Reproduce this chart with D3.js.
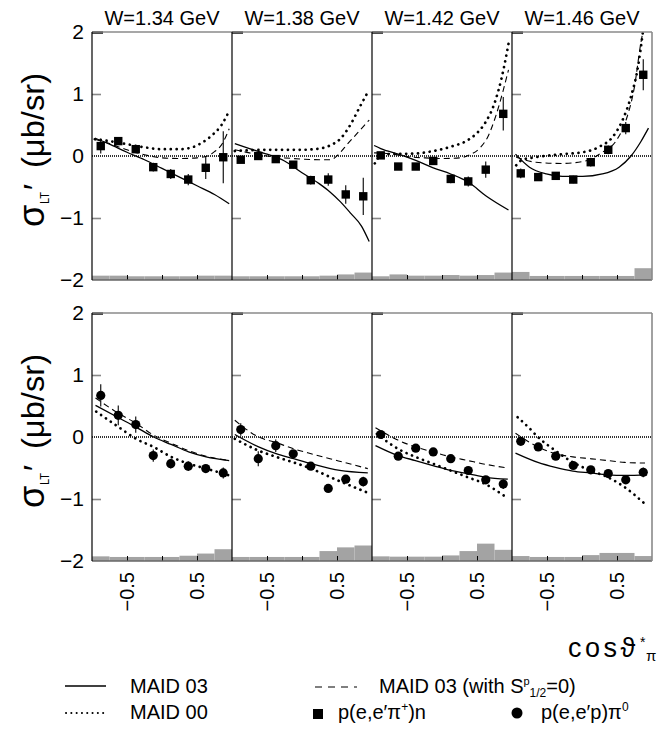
<!DOCTYPE html>
<html>
<head>
<meta charset="utf-8">
<script src="https://cdn.jsdelivr.net/npm/d3@7"></script>
<style>
  body { margin: 0; background: #fff; }
  svg { font-family: "Liberation Sans", Arial, sans-serif; }
</style>
</head>
<body>
<div id="chart"></div>
<script>
// panel titles
const energies = ['W=1.34 GeV', 'W=1.38 GeV', 'W=1.42 GeV', 'W=1.46 GeV']
// bin centres in cos theta*
const cosBins = [-0.875, -0.625, -0.375, -0.125, 0.125, 0.375, 0.625, 0.875]
const binWidth = 0.25
const yTicks = [-2, -1, 0, 1, 2]
const xTickLabels = [-0.5, 0.5]

// p(e,e'pi+)n  (top row)
const piPlusVal = [
  [0.16, 0.24, 0.11, -0.18, -0.29, -0.38, -0.19, -0.02],
  [-0.06, 0.0, -0.05, -0.14, -0.39, -0.38, -0.62, -0.65],
  [0.01, -0.17, -0.17, -0.08, -0.37, -0.41, -0.22, 0.68],
  [-0.28, -0.34, -0.32, -0.38, -0.10, 0.10, 0.45, 1.31]
]
const piPlusErr = [
  [0.12, 0.05, 0.06, 0.07, 0.08, 0.09, 0.18, 0.42],
  [0.05, 0.04, 0.05, 0.06, 0.07, 0.10, 0.15, 0.30],
  [0.05, 0.05, 0.05, 0.05, 0.07, 0.08, 0.13, 0.27],
  [0.08, 0.05, 0.05, 0.06, 0.07, 0.07, 0.10, 0.25]
]
const piPlusSys = [
  [0.07, 0.07, 0.06, 0.06, 0.06, 0.06, 0.07, 0.07],
  [0.06, 0.06, 0.06, 0.06, 0.06, 0.07, 0.09, 0.12],
  [0.06, 0.09, 0.07, 0.07, 0.08, 0.07, 0.08, 0.12],
  [0.13, 0.065, 0.065, 0.065, 0.065, 0.065, 0.065, 0.19]
]

// p(e,e'p)pi0  (bottom row)
const pi0Val = [
  [0.67, 0.35, 0.20, -0.30, -0.43, -0.47, -0.51, -0.58],
  [0.12, -0.35, -0.14, -0.27, -0.47, -0.83, -0.68, -0.72],
  [0.04, -0.31, -0.18, -0.24, -0.35, -0.54, -0.69, -0.76],
  [-0.07, -0.16, -0.31, -0.46, -0.53, -0.59, -0.69, -0.57]
]
const pi0Err = [
  [0.18, 0.16, 0.13, 0.10, 0.08, 0.08, 0.06, 0.09],
  [0.10, 0.12, 0.10, 0.05, 0.05, 0.04, 0.05, 0.08],
  [0.05, 0.06, 0.05, 0.05, 0.04, 0.04, 0.05, 0.08],
  [0.05, 0.05, 0.05, 0.05, 0.04, 0.04, 0.05, 0.08]
]
const pi0Sys = [
  [0.075, 0.065, 0.065, 0.065, 0.065, 0.085, 0.12, 0.19],
  [0.065, 0.065, 0.065, 0.065, 0.065, 0.16, 0.22, 0.25],
  [0.075, 0.07, 0.07, 0.07, 0.09, 0.16, 0.28, 0.18],
  [0.08, 0.065, 0.065, 0.065, 0.095, 0.13, 0.13, 0.08]
]

// model curves, [cos, sigma]
const maid03PiPlus = [
  [[-0.96, 0.29], [-0.75, 0.19], [-0.5, 0.06], [-0.25, -0.06], [0, -0.2], [0.25, -0.34], [0.5, -0.48], [0.75, -0.62], [0.96, -0.77]],
  [[-0.96, 0.2], [-0.75, 0.12], [-0.5, 0.03], [-0.25, -0.08], [0, -0.27], [0.25, -0.45], [0.4, -0.58], [0.55, -0.74], [0.7, -0.93], [0.85, -1.13], [0.96, -1.38]],
  [[-0.97, 0.17], [-0.875, 0.12], [-0.625, 0.03], [-0.375, -0.07], [-0.125, -0.19], [0.125, -0.29], [0.375, -0.42], [0.625, -0.64], [0.95, -0.87]],
  [[-0.95, 0.03], [-0.75, -0.18], [-0.51, -0.29], [-0.28, -0.33], [0.01, -0.33], [0.29, -0.29], [0.53, -0.18], [0.7, 0], [0.84, 0.23], [0.95, 0.45]]
]
const maid03S0PiPlus = [
  [[-0.96, 0.27], [-0.75, 0.2], [-0.5, 0.1], [-0.25, 0.02], [0, -0.03], [0.25, -0.04], [0.5, -0.03], [0.65, 0.0], [0.75, 0.07], [0.85, 0.18], [0.96, 0.44]],
  [[-0.96, 0.1], [-0.75, 0.05], [-0.5, 0.0], [-0.25, -0.03], [0, -0.05], [0.25, -0.06], [0.4, -0.06], [0.55, 0.06], [0.64, 0.18], [0.8, 0.38], [0.96, 0.58]],
  [[-0.97, 0.05], [-0.75, 0.04], [-0.5, -0.01], [-0.25, -0.03], [0, -0.04], [0.25, -0.03], [0.4, 0.02], [0.55, 0.14], [0.65, 0.3], [0.77, 0.65], [0.87, 1.04], [0.95, 1.39]],
  [[-0.94, -0.02], [-0.66, -0.1], [-0.28, -0.12], [0.01, -0.09], [0.29, 0.06], [0.49, 0.25], [0.63, 0.58], [0.75, 1.12], [0.84, 1.82], [0.87, 2.0]]
]
const maid00PiPlus = [
  [[-0.96, 0.27], [-0.75, 0.24], [-0.5, 0.19], [-0.25, 0.14], [0, 0.11], [0.25, 0.11], [0.4, 0.13], [0.55, 0.2], [0.7, 0.32], [0.85, 0.5], [0.97, 0.75]],
  [[-0.96, 0.08], [-0.5, 0.1], [0, 0.1], [0.25, 0.12], [0.4, 0.17], [0.55, 0.28], [0.7, 0.52], [0.82, 0.78], [0.95, 1.05]],
  [[-0.96, -0.12], [-0.88, 0.0], [-0.75, 0.03], [-0.375, 0.04], [-0.125, 0.08], [0.125, 0.15], [0.375, 0.26], [0.5, 0.37], [0.625, 0.55], [0.75, 0.85], [0.85, 1.25], [0.96, 1.87]],
  [[-0.94, -0.15], [-0.85, -0.06], [-0.66, -0.02], [-0.28, 0.03], [0.01, 0.06], [0.25, 0.15], [0.44, 0.31], [0.58, 0.58], [0.7, 0.96], [0.8, 1.44], [0.87, 2.0]]
]

const maid03Pi0 = [
  [[-0.95, 0.51], [-0.62, 0.31], [-0.37, 0.16], [-0.12, 0], [0.13, -0.12], [0.38, -0.24], [0.63, -0.32], [0.96, -0.38]],
  [[-0.96, 0.04], [-0.62, -0.16], [-0.37, -0.27], [-0.12, -0.35], [0.13, -0.43], [0.54, -0.54], [0.94, -0.58]],
  [[-0.95, -0.14], [-0.63, -0.3], [-0.38, -0.38], [-0.13, -0.46], [0.12, -0.54], [0.37, -0.59], [0.62, -0.65], [0.94, -0.68]],
  [[-0.95, -0.26], [-0.63, -0.41], [-0.38, -0.49], [-0.13, -0.55], [0.12, -0.58], [0.37, -0.61], [0.61, -0.62], [0.93, -0.61]]
]
const maid03S0Pi0 = [
  [[-0.95, 0.63], [-0.62, 0.38], [-0.37, 0.22], [-0.12, 0.03], [0.13, -0.1], [0.38, -0.22], [0.63, -0.31], [0.96, -0.38]],
  [[-0.96, 0.27], [-0.62, 0], [-0.37, -0.09], [-0.12, -0.19], [0.13, -0.27], [0.4, -0.35], [0.94, -0.51]],
  [[-0.95, 0.15], [-0.63, -0.05], [-0.38, -0.16], [-0.13, -0.24], [0.12, -0.32], [0.37, -0.38], [0.62, -0.44], [0.94, -0.5]],
  [[-0.95, 0.06], [-0.63, -0.16], [-0.38, -0.27], [-0.13, -0.32], [0.12, -0.35], [0.37, -0.38], [0.61, -0.41], [0.9, -0.42]]
]
const maid00Pi0 = [
  [[-0.94, 0.41], [-0.62, 0.16], [-0.37, -0.03], [-0.12, -0.16], [0.13, -0.32], [0.38, -0.43], [0.63, -0.51], [0.96, -0.62]],
  [[-0.96, -0.03], [-0.62, -0.22], [-0.37, -0.32], [-0.12, -0.41], [0.13, -0.51], [0.45, -0.67], [0.92, -0.89]],
  [[-0.93, 0.05], [-0.63, -0.19], [-0.38, -0.32], [-0.13, -0.43], [0.12, -0.54], [0.37, -0.65], [0.62, -0.76], [0.89, -0.95]],
  [[-0.92, 0.32], [-0.75, 0.14], [-0.63, 0], [-0.38, -0.22], [-0.13, -0.41], [0.12, -0.54], [0.37, -0.65], [0.61, -0.81], [0.89, -1.07]]
]

const width = 658, height = 730
const panelLeft = 92, panelW = 140
const rowBoxes = [{top: 32, bottom: 280}, {top: 313, bottom: 561}]

const rows = [
  {val: piPlusVal, err: piPlusErr, sys: piPlusSys, m03: maid03PiPlus, m03s: maid03S0PiPlus, m00: maid00PiPlus, marker: 'square'},
  {val: pi0Val, err: pi0Err, sys: pi0Sys, m03: maid03Pi0, m03s: maid03S0Pi0, m00: maid00Pi0, marker: 'circle'}
]

const styles = {
  m03: {dash: null, w: 1.3, cap: 'butt'},
  m03s: {dash: '6,4', w: 1.1, cap: 'butt'},
  m00: {dash: '0.1,5.8', w: 2.7, cap: 'round'}
}

const svg = d3.select('#chart').append('svg')
  .attr('width', width).attr('height', height)
const defs = svg.append('defs')

rows.forEach((row, r) => {
  const {top, bottom} = rowBoxes[r]
  const y = d3.scaleLinear().domain([-2, 2]).range([bottom, top])

  energies.forEach((title, p) => {
    const x0 = panelLeft + p * panelW
    const x = d3.scaleLinear().domain([-1, 1]).range([x0, x0 + panelW])
    const clipId = `clip-${r}-${p}`
    defs.append('clipPath').attr('id', clipId)
      .append('rect').attr('x', x0).attr('y', top)
      .attr('width', panelW).attr('height', bottom - top)

    const g = svg.append('g')

    // systematic error histogram
    g.selectAll('rect.sys').data(row.sys[p]).join('rect')
      .attr('class', 'sys')
      .attr('x', (d, i) => x(cosBins[i] - binWidth / 2))
      .attr('width', (d, i) => x(cosBins[i] + binWidth / 2) - x(cosBins[i] - binWidth / 2))
      .attr('y', d => y(-2 + d))
      .attr('height', d => y(-2) - y(-2 + d))
      .attr('fill', '#a3a3a3')

    // zero line
    g.append('line')
      .attr('x1', x0).attr('x2', x0 + panelW)
      .attr('y1', y(0)).attr('y2', y(0))
      .attr('stroke', '#333').attr('stroke-width', 2)
      .attr('stroke-dasharray', '1,1')

    // model curves
    const curves = g.append('g').attr('clip-path', `url(#${clipId})`)
    ;['m03s', 'm00', 'm03'].forEach(k => {
      const s = styles[k]
      curves.append('path')
        .attr('d', d3.line().x(d => x(d[0])).y(d => y(d[1])).curve(d3.curveMonotoneX)(row[k][p]))
        .attr('fill', 'none').attr('stroke', '#000')
        .attr('stroke-width', s.w)
        .attr('stroke-dasharray', s.dash)
        .attr('stroke-linecap', s.cap)
    })

    // data with error bars
    const pts = row.val[p].map((v, i) => ({c: cosBins[i], v, e: row.err[p][i]}))
    g.selectAll('line.err').data(pts).join('line')
      .attr('class', 'err')
      .attr('x1', d => x(d.c)).attr('x2', d => x(d.c))
      .attr('y1', d => y(d.v - d.e)).attr('y2', d => y(d.v + d.e))
      .attr('stroke', '#000').attr('stroke-width', 1.1)
    if (row.marker === 'square') {
      g.selectAll('rect.pt').data(pts).join('rect')
        .attr('class', 'pt')
        .attr('x', d => x(d.c) - 4.2).attr('y', d => y(d.v) - 4.2)
        .attr('width', 8.4).attr('height', 8.4).attr('fill', '#000')
    } else {
      g.selectAll('circle.pt').data(pts).join('circle')
        .attr('class', 'pt')
        .attr('cx', d => x(d.c)).attr('cy', d => y(d.v))
        .attr('r', 4.6).attr('fill', '#000')
    }

    // ticks inside frame
    g.append('g').attr('transform', `translate(${x0},0)`)
      .call(d3.axisRight(y).tickValues([-1, 1]).tickSize(9).tickFormat(''))
      .call(a => a.select('.domain').remove())
      .call(a => a.selectAll('line').attr('stroke', '#888').attr('stroke-width', 1.6))
    g.append('g').attr('transform', `translate(${x0},0)`)
      .call(d3.axisRight(y).tickValues([2]).tickSize(11).tickFormat(''))
      .call(a => a.select('.domain').remove())
      .call(a => a.selectAll('line').attr('stroke', '#000').attr('stroke-width', 2.4))
    g.append('g').attr('transform', `translate(0,${bottom})`)
      .call(d3.axisTop(x).tickValues([-0.5, 0, 0.5]).tickSize(5).tickFormat(''))
      .call(a => a.select('.domain').remove())
      .call(a => a.selectAll('line').attr('stroke', '#000').attr('stroke-width', 1))

    // frame
    g.append('line').attr('x1', x0).attr('x2', x0 + panelW).attr('y1', top).attr('y2', top)
      .attr('stroke', '#8a8a8a').attr('stroke-width', 1.6)
    g.append('line').attr('x1', x0).attr('x2', x0 + panelW).attr('y1', bottom).attr('y2', bottom)
      .attr('stroke', '#666').attr('stroke-width', 1.4)
    g.append('line').attr('x1', x0).attr('x2', x0).attr('y1', top).attr('y2', bottom)
      .attr('stroke', '#000').attr('stroke-width', 1.2)
    if (p === energies.length - 1) {
      g.append('line').attr('x1', x0 + panelW).attr('x2', x0 + panelW).attr('y1', top).attr('y2', bottom)
        .attr('stroke', '#8a8a8a').attr('stroke-width', 1.6)
    }

    if (r === 0) {
      svg.append('text')
        .attr('x', x0 + panelW / 2).attr('y', 25)
        .attr('text-anchor', 'middle').attr('font-size', 20)
        .text(title)
    } else {
      xTickLabels.forEach(t => {
        svg.append('text')
          .attr('transform', `translate(${x(t) + 7},572) rotate(-90)`)
          .attr('text-anchor', 'end').attr('font-size', 20)
          .text(d3.format('.1f')(t))
      })
    }
  })

  // y axis numbers
  svg.append('g').attr('transform', `translate(${panelLeft},0)`)
    .call(d3.axisLeft(y).tickValues(yTicks).tickSize(0).tickPadding(8).tickFormat(d3.format('d')))
    .call(a => a.select('.domain').remove())
    .call(a => a.selectAll('text').attr('font-size', 21).attr('font-family', '"Liberation Sans", Arial, sans-serif'))

  // y axis title, laid out along the rotated baseline
  const yt = svg.append('g').attr('transform', `translate(44,${y(0)}) rotate(-90)`)
  yt.append('text').attr('x', -71).attr('font-size', 36).text('σ')
  yt.append('text').attr('x', -48).attr('y', 5).attr('font-size', 13)
    .attr('textLength', 12).attr('lengthAdjust', 'spacingAndGlyphs').text('LT')
  yt.append('text').attr('x', -34).attr('y', 2).attr('font-size', 32).text('′')
  yt.append('text').attr('x', -12).attr('font-size', 32)
    .attr('textLength', 95).attr('lengthAdjust', 'spacingAndGlyphs').text('(μb/sr)')
})

// x axis title
const xt = svg.append('g')
xt.append('text').attr('x', 568).attr('y', 657).attr('font-size', 27)
  .attr('letter-spacing', 3.5).text('cosϑ')
xt.append('text').attr('x', 640).attr('y', 647).attr('font-size', 14).text('*')
xt.append('text').attr('x', 646).attr('y', 661).attr('font-size', 15).text('π')

// legend
const legend = svg.append('g')
const legendLines = [
  {k: 'm03', x1: 65, x2: 106, y: 686, label: 'MAID 03', tx: 130, ty: 693},
  {k: 'm00', x1: 66, x2: 104, y: 713, label: 'MAID 00', tx: 130, ty: 719},
  {k: 'm03s', x1: 315, x2: 357, y: 687, label: null, tx: 379, ty: 693}
]
legendLines.forEach(l => {
  const s = styles[l.k]
  legend.append('line').attr('x1', l.x1).attr('x2', l.x2).attr('y1', l.y).attr('y2', l.y)
    .attr('stroke', '#000').attr('stroke-width', l.k === 'm00' ? 2 : s.w)
    .attr('stroke-dasharray', l.k === 'm03s' ? '7,6' : (l.k === 'm00' ? '0.1,5.2' : s.dash))
    .attr('stroke-linecap', s.cap)
  if (l.label) {
    legend.append('text').attr('x', l.tx).attr('y', l.ty).attr('font-size', 20).text(l.label)
  }
})
const t3 = legend.append('text').attr('x', 379).attr('y', 693).attr('font-size', 20)
t3.append('tspan').text('MAID 03 (with S')
t3.append('tspan').attr('font-size', 11).attr('dy', -8).text('p')
t3.append('tspan').attr('font-size', 12).attr('dy', 12).text('1/2')
t3.append('tspan').attr('dy', -4).text('=0)')

legend.append('rect').attr('x', 313).attr('y', 709).attr('width', 10).attr('height', 10).attr('fill', '#000')
const t4 = legend.append('text').attr('x', 338).attr('y', 719).attr('font-size', 20)
t4.append('tspan').text('p(e,e′π')
t4.append('tspan').attr('font-size', 12).attr('dy', -8).text('+')
t4.append('tspan').attr('dy', 8).text(')n')

legend.append('circle').attr('cx', 517).attr('cy', 713).attr('r', 5.5).attr('fill', '#000')
const t5 = legend.append('text').attr('x', 541).attr('y', 719).attr('font-size', 20)
t5.append('tspan').text('p(e,e′p)π')
t5.append('tspan').attr('font-size', 12).attr('dy', -8).text('0')
</script>
</body>
</html>
